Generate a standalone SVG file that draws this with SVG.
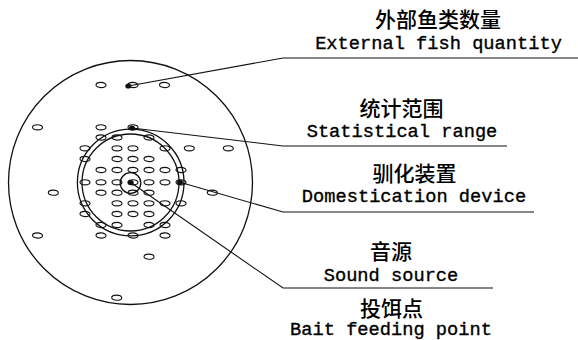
<svg xmlns="http://www.w3.org/2000/svg" width="578" height="340" viewBox="0 0 578 340">
<defs>
<style>
.ring{fill:none;stroke:#111;stroke-width:1.3}
.fish{fill:#fff;stroke:#111;stroke-width:1.1}
.dot{fill:#111;stroke:none}
.lead{fill:none;stroke:#111;stroke-width:1.1}
.cn{font-family:"Noto Sans CJK SC","Noto Sans",sans-serif;font-size:21px;font-weight:500;fill:#000;text-anchor:middle}
.en{font-family:"Liberation Mono","DejaVu Sans Mono",monospace;font-size:18.7px;fill:#000;stroke:#000;stroke-width:0.35;text-anchor:middle}
</style>
<ellipse id="f" class="fish" cx="0" cy="0" rx="5" ry="2.6"/>
</defs>
<rect width="578" height="340" fill="#fff"/>
<g id="outer-area">
<circle class="ring" cx="130.5" cy="182.5" r="122"/>
</g>
<g id="fish">
<use href="#f" x="101" y="85"/><use href="#f" x="133" y="85"/><use href="#f" x="164.5" y="85"/>
<use href="#f" x="37.5" y="127.3"/><use href="#f" x="101" y="127.3"/><use href="#f" x="133" y="127.3"/>
<use href="#f" x="101" y="137.5"/><use href="#f" x="117" y="137.5"/><use href="#f" x="149" y="137.5"/>
<use href="#f" x="85" y="148.3"/><use href="#f" x="117" y="148.3"/><use href="#f" x="133" y="148.3"/><use href="#f" x="165" y="148.3"/><use href="#f" x="189.3" y="148.3"/><use href="#f" x="228.3" y="148.3"/>
<use href="#f" x="85" y="159"/><use href="#f" x="117" y="159"/><use href="#f" x="133" y="159"/><use href="#f" x="149" y="159"/>
<use href="#f" x="101" y="170"/><use href="#f" x="117" y="170"/><use href="#f" x="133" y="170"/><use href="#f" x="149" y="170"/><use href="#f" x="165" y="170"/><use href="#f" x="181" y="170"/>
<use href="#f" x="85" y="182.3"/><use href="#f" x="101" y="182.3"/><use href="#f" x="117" y="182.3"/><use href="#f" x="133" y="182.3"/><use href="#f" x="149" y="182.3"/><use href="#f" x="165" y="182.3"/><use href="#f" x="181" y="182.3"/>
<use href="#f" x="53.3" y="192.7"/><use href="#f" x="101" y="192.7"/><use href="#f" x="117" y="192.7"/><use href="#f" x="133" y="192.7"/><use href="#f" x="149" y="192.7"/><use href="#f" x="212.3" y="192.7"/>
<use href="#f" x="85" y="203.3"/><use href="#f" x="117" y="203.3"/><use href="#f" x="133" y="203.3"/><use href="#f" x="149" y="203.3"/><use href="#f" x="165" y="203.3"/><use href="#f" x="181" y="203.3"/>
<use href="#f" x="85" y="214"/><use href="#f" x="117" y="214"/><use href="#f" x="133" y="214"/><use href="#f" x="149" y="214"/>
<use href="#f" x="101" y="225"/><use href="#f" x="117" y="225"/><use href="#f" x="149" y="225"/><use href="#f" x="165" y="225"/>
<use href="#f" x="37.5" y="235.5"/><use href="#f" x="101" y="235.5"/><use href="#f" x="133" y="235.5"/><use href="#f" x="165" y="235.5"/>
<use href="#f" x="149" y="256.7"/>
<use href="#f" x="116.7" y="297.7"/>
</g>
<g id="domestication-device">
<circle class="ring" cx="130.7" cy="182.5" r="53.3"/>
<circle class="ring" cx="130.5" cy="182.5" r="48.5"/>
</g>
<g id="sound-source">
<circle class="ring" cx="130.5" cy="183" r="10.3"/>
</g>
<g id="points">
<ellipse class="dot" cx="128.3" cy="86" rx="3" ry="2.6"/>
<ellipse class="dot" cx="132" cy="128" rx="3" ry="2.6"/>
<ellipse class="dot" cx="180" cy="182.3" rx="3" ry="2.6"/>
<ellipse class="dot" cx="130.7" cy="182.5" rx="3" ry="2.6"/>
</g>
<g id="connectors">
<polyline class="lead" points="128.3,86 283,58 578,58"/>
<polyline class="lead" points="132,128 283,146 507,146"/>
<polyline class="lead" points="180,182.3 283,212 534,212"/>
<polyline class="lead" points="130.7,182.5 283,288 493,288"/>
</g>
<g id="label-external">
<text class="cn" x="438" y="26.5">外部鱼类数量</text>
<text class="en" x="438.5" y="49">External fish quantity</text>
</g>
<g id="label-range">
<text class="cn" x="401.5" y="115.5">统计范围</text>
<text class="en" x="402" y="137">Statistical range</text>
</g>
<g id="label-device">
<text class="cn" x="414.5" y="180.5">驯化装置</text>
<text class="en" x="414" y="202">Domestication device</text>
</g>
<g id="label-sound">
<text class="cn" x="391" y="258.5">音源</text>
<text class="en" x="391" y="281">Sound source</text>
</g>
<g id="label-bait">
<text class="cn" x="391.5" y="315.5">投饵点</text>
<text class="en" x="391" y="335">Bait feeding point</text>
</g>
</svg>
